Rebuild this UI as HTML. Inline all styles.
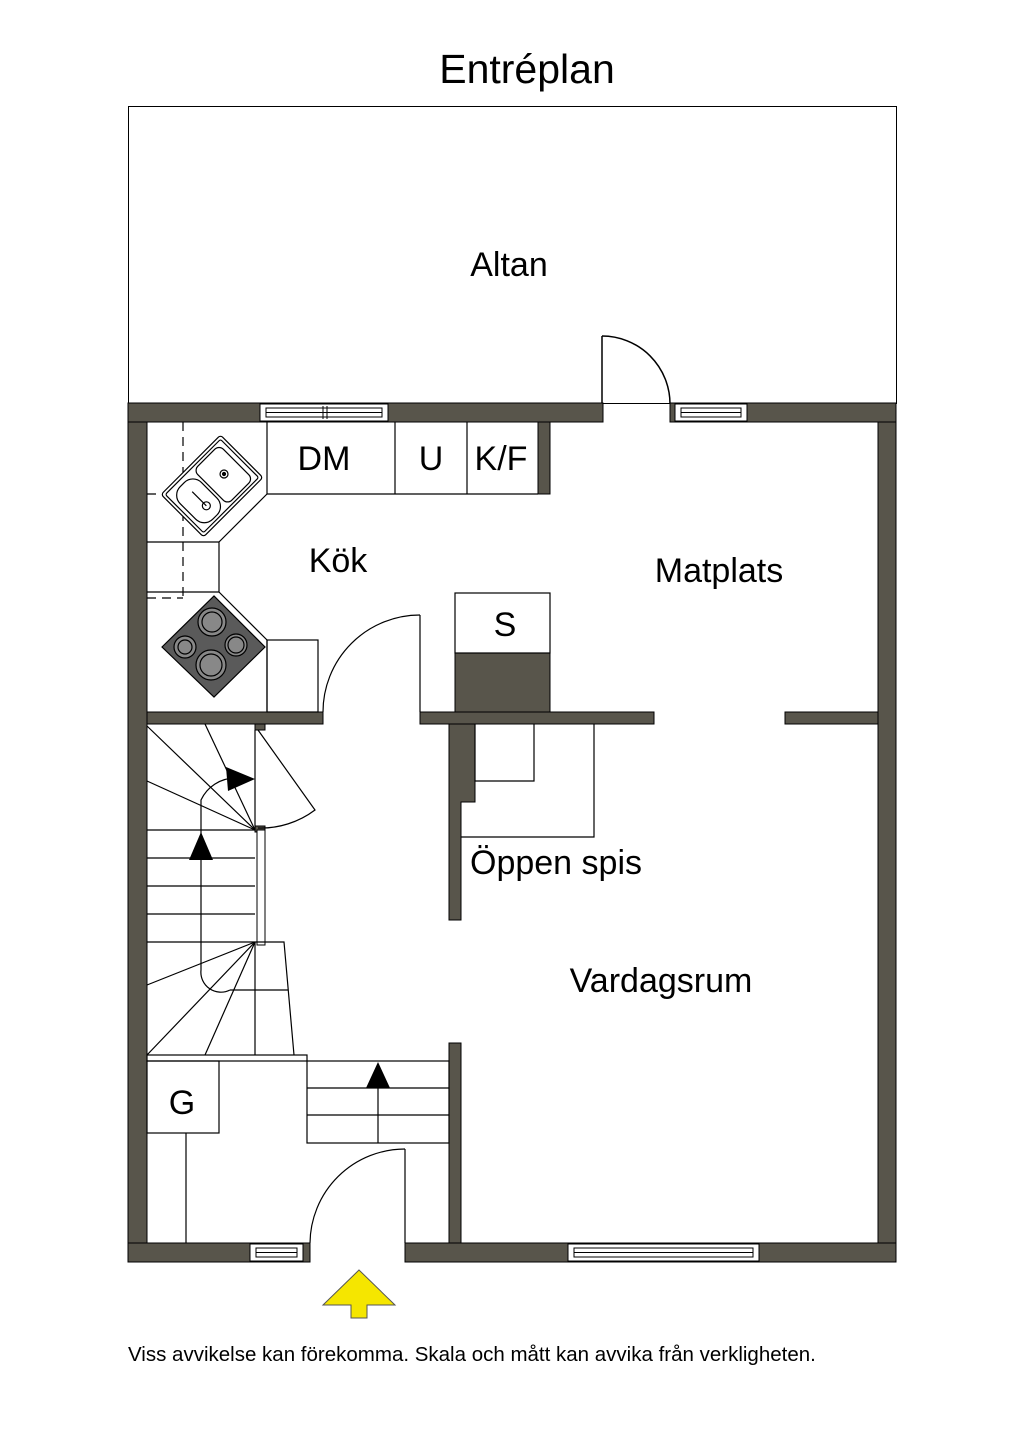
<!DOCTYPE html>
<html><head><meta charset="utf-8"><style>
html,body{margin:0;padding:0;background:#fff}
svg{display:block}
text{font-family:"Liberation Sans",Arial,sans-serif;fill:#000}
</style></head><body>
<svg width="1024" height="1448" viewBox="0 0 1024 1448" xmlns="http://www.w3.org/2000/svg">
<rect width="1024" height="1448" fill="#fff"/>
<text x="527" y="83" font-size="41" text-anchor="middle">Entréplan</text>
<rect x="128.5" y="106.5" width="768" height="297" fill="none" stroke="#000" stroke-width="1"/>
<text x="509" y="276" font-size="34" text-anchor="middle">Altan</text>
<g fill="none" stroke="#000" stroke-width="1.5">
<line x1="602" y1="336" x2="602" y2="404"/>
<path d="M602 336 A68 68 0 0 1 670 404"/>
</g>
<g fill="#58554b" stroke="#000" stroke-width="1">
<rect x="128" y="403" width="19" height="859"/>
<rect x="878" y="403" width="18" height="859"/>
<rect x="128" y="403" width="475" height="19"/>
<rect x="670" y="403" width="226" height="19"/>
<rect x="128" y="1243" width="182" height="19"/>
<rect x="405" y="1243" width="491" height="19"/>
<rect x="538" y="422" width="12" height="72"/>
<rect x="147" y="712" width="176" height="12"/>
<rect x="420" y="712" width="234" height="12"/>
<rect x="785" y="712" width="93" height="12"/>
<rect x="455" y="653" width="95" height="59"/>
<path d="M449 724 H475 V802 H461 V920 H449 Z"/>
<rect x="449" y="1043" width="12" height="200"/>
<rect x="255" y="724" width="10" height="6"/>
<rect x="255" y="826" width="10" height="6"/>
</g>
<g fill="#fff" stroke="#000" stroke-width="1">
<rect x="260" y="404" width="128" height="17"/>
<rect x="266" y="408" width="116" height="9"/>
<line x1="323" y1="406" x2="323" y2="419"/><line x1="327" y1="406" x2="327" y2="419"/>
<line x1="266" y1="412.5" x2="382" y2="412.5"/>
<rect x="675" y="404" width="72" height="17"/>
<rect x="681" y="408" width="60" height="9"/>
<line x1="681" y1="412.5" x2="741" y2="412.5"/>
<rect x="250" y="1244" width="53" height="17"/>
<rect x="256" y="1248" width="41" height="9"/>
<line x1="256" y1="1252.5" x2="297" y2="1252.5"/>
<rect x="568" y="1244" width="191" height="17"/>
<rect x="574" y="1248" width="179" height="9"/>
<line x1="574" y1="1252.5" x2="753" y2="1252.5"/>
<rect x="257" y="830" width="8" height="115"/>
</g>
<g fill="none" stroke="#000" stroke-width="1.2">
<line x1="267" y1="422" x2="267" y2="494"/>
<line x1="267" y1="494" x2="538" y2="494"/>
<line x1="395" y1="422" x2="395" y2="494"/>
<line x1="467" y1="422" x2="467" y2="494"/>
<path d="M267 494 L219 542 V592 L267 640 V712"/>
<line x1="147" y1="542" x2="219" y2="542"/>
<line x1="147" y1="592" x2="219" y2="592"/>
<rect x="267" y="640" width="51" height="72"/>
<path d="M183 422 V598 M147 494 H183 M147 598 H183" stroke-dasharray="9 6"/>
<rect x="455" y="593" width="95" height="60"/>
<line x1="420" y1="615" x2="420" y2="712"/>
<path d="M420 615 A97 97 0 0 0 323 712"/>
</g>
<g transform="translate(212 486) rotate(-45)" fill="#fff" stroke="#000" stroke-width="1.2">
<rect x="-42" y="-30" width="84" height="60" rx="3"/>
<rect x="-39" y="-27" width="78" height="54" rx="2"/>
<rect x="-35" y="-22" width="30" height="46" rx="12"/>
<rect x="-2" y="-24" width="36" height="48" rx="6"/>
<circle cx="-18" cy="10" r="4"/><circle cx="17" cy="0" r="4"/>
<circle cx="17" cy="0" r="1.5" fill="#000"/>
<line x1="-18" y1="10" x2="-18" y2="-10"/>
</g>
<g stroke="#000" stroke-width="1.2">
<polygon points="162,647 214,596 265,647 214,697" fill="#5a5a5a"/>
<g fill="#888">
<circle cx="212" cy="622" r="14"/><circle cx="212" cy="622" r="10"/>
<circle cx="236" cy="645" r="11"/><circle cx="236" cy="645" r="8"/>
<circle cx="211" cy="665" r="15"/><circle cx="211" cy="665" r="11"/>
<circle cx="185" cy="647" r="11"/><circle cx="185" cy="647" r="7"/>
</g>
</g>
<g fill="none" stroke="#000" stroke-width="1.2">
<path d="M475 724 V781 H534 V724"/>
<path d="M594 724 V837 H461"/>
</g>
<g fill="none" stroke="#000" stroke-width="1.2">
<line x1="147" y1="830" x2="255" y2="830"/>
<line x1="147" y1="858" x2="255" y2="858"/>
<line x1="147" y1="886" x2="255" y2="886"/>
<line x1="147" y1="914" x2="255" y2="914"/>
<line x1="147" y1="942" x2="255" y2="942"/>
<line x1="255" y1="830" x2="147" y2="726"/>
<line x1="255" y1="830" x2="205" y2="724"/>
<line x1="255" y1="830" x2="147" y2="781"/>
<line x1="255" y1="730" x2="255" y2="830"/>
<path d="M258 730 L315 810 A90 90 0 0 1 258 828"/>
<line x1="255" y1="942" x2="147" y2="985"/>
<line x1="255" y1="942" x2="147" y2="1055"/>
<line x1="255" y1="942" x2="205" y2="1055"/>
<path d="M255 942 H284 L294 1055"/>
<line x1="255" y1="942" x2="255" y2="1055"/>
<line x1="230" y1="990" x2="288" y2="990"/>
<path d="M201 858 V970 A20 20 0 0 0 230 990"/>
<path d="M201 858 V800 A38 38 0 0 1 235 778"/>
<rect x="147" y="1055" width="160" height="6"/>
<rect x="307" y="1061" width="142" height="82"/>
<line x1="307" y1="1088" x2="449" y2="1088"/>
<line x1="307" y1="1115" x2="449" y2="1115"/>
<line x1="378" y1="1088" x2="378" y2="1143"/>
<rect x="147" y="1061" width="72" height="72"/>
<line x1="186" y1="1133" x2="186" y2="1243"/>
<line x1="405" y1="1149" x2="405" y2="1243"/>
<path d="M405 1149 A95 95 0 0 0 310 1243"/>
</g>
<g fill="#000">
<polygon points="201,832 189,860 213,860"/>
<polygon points="255,779 226,767 228,791"/>
<polygon points="378,1062 366,1088 390,1088"/>
</g>
<polygon points="359,1270 395,1305 367,1305 367,1318 351,1318 351,1305 323,1305" fill="#f5e600" stroke="#555" stroke-width="1"/>
<g font-size="34">
<text x="324" y="470" text-anchor="middle">DM</text>
<text x="431" y="470" text-anchor="middle">U</text>
<text x="501" y="470" text-anchor="middle">K/F</text>
<text x="338" y="572" text-anchor="middle">Kök</text>
<text x="719" y="582" text-anchor="middle">Matplats</text>
<text x="505" y="636" text-anchor="middle">S</text>
<text x="556" y="874" text-anchor="middle">Öppen spis</text>
<text x="661" y="992" text-anchor="middle">Vardagsrum</text>
<text x="182" y="1114" text-anchor="middle">G</text>
</g>
<text x="128" y="1361" font-size="20.5">Viss avvikelse kan förekomma. Skala och mått kan avvika från verkligheten.</text>
</svg>
</body></html>
